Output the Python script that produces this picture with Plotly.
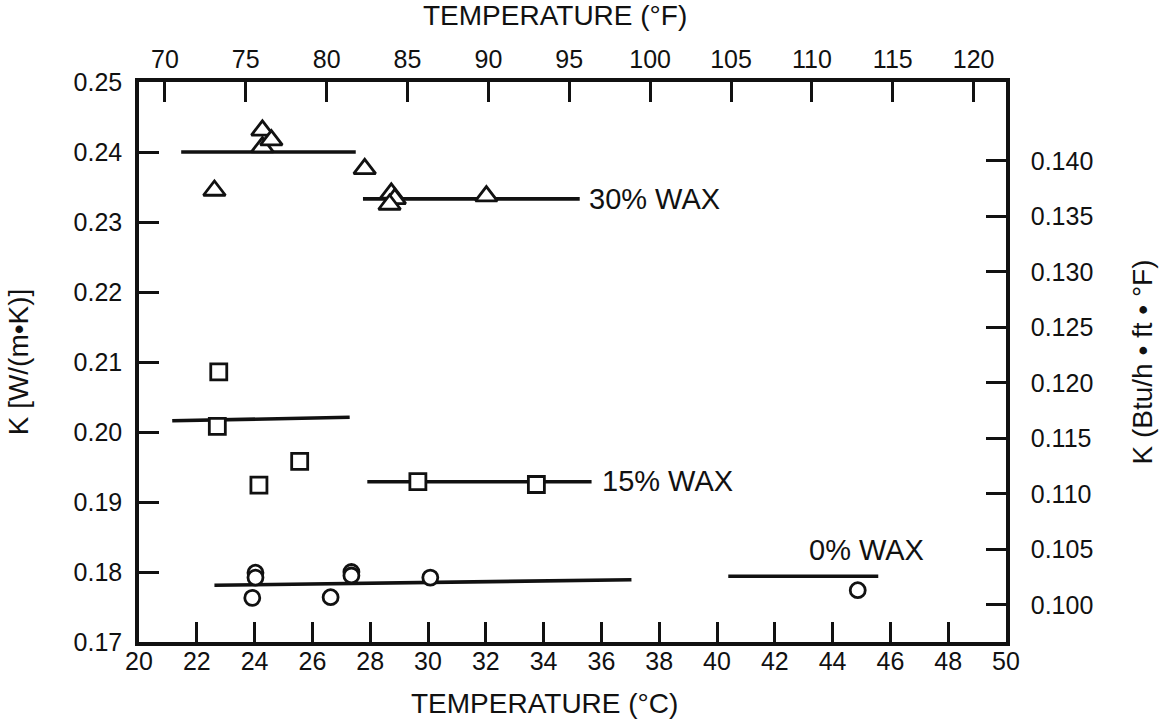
import plotly.graph_objects as go

# Thermal conductivity of wax/oil mixtures vs temperature
# 30% wax (triangles)
t30_c = [22.61, 24.27, 24.27, 24.58, 27.81, 28.73, 28.85, 28.67, 32.02]
k30 = [0.2345, 0.2431, 0.2407, 0.2417, 0.2376, 0.2341, 0.2333, 0.2325, 0.2337]
# 15% wax (squares)
t15_c = [22.76, 22.71, 24.15, 25.56, 29.65, 33.75]
k15 = [0.2086, 0.2008, 0.1924, 0.1958, 0.1929, 0.1925]
# 0% wax (circles)
t0_c = [24.03, 24.03, 23.92, 26.63, 27.35, 27.35, 30.08, 44.87]
k0 = [0.1799, 0.1792, 0.1763, 0.1764, 0.1800, 0.1795, 0.1792, 0.1774]

# Mean-value lines below / above the wax appearance temperature
line30_x = [[21.46, 27.50], [27.75, 35.25]]
line30_k = [[0.2400, 0.2400], [0.2333, 0.2333]]
line15_x = [[21.15, 27.29], [27.90, 35.66]]
line15_k = [[0.2016, 0.2021], [0.1929, 0.1929]]
line0_x = [[22.61, 37.04], [40.39, 45.58]]
line0_k = [[0.1781, 0.1789], [0.1794, 0.1794]]

series_labels = ["30% WAX", "15% WAX", "0% WAX"]
label_pos = [(35.49, 0.2333, "left"), (35.95, 0.1930, "left"), (45.19, 0.1831, "center")]

x_ticks_c = list(range(20, 52, 2))
x_ticks_f = list(range(70, 125, 5))
y_ticks_si = [0.17, 0.18, 0.19, 0.20, 0.21, 0.22, 0.23, 0.24, 0.25]
y_ticks_us = [0.100, 0.105, 0.110, 0.115, 0.120, 0.125, 0.130, 0.135, 0.140]

# English-unit scales (°F on top, Btu/h·ft·°F on the right)
F_RANGE = [68.4, 122.0]
US_RANGE = [0.09665, 0.14710]
W_TO_BTU = 0.5778

FONT = "Liberation Sans, Arial, Helvetica, sans-serif"
BLACK = "#111111"

fig = go.Figure()

for xs_all, ks_all in [(line30_x, line30_k), (line15_x, line15_k), (line0_x, line0_k)]:
    for xs, ks in zip(xs_all, ks_all):
        fig.add_trace(go.Scatter(x=xs, y=ks, mode="lines",
                                 line=dict(color=BLACK, width=3.6),
                                 showlegend=False, hoverinfo="skip"))

marker_line = dict(color=BLACK, width=2.8)
fig.add_trace(go.Scatter(x=t30_c, y=k30, mode="markers", name="30% WAX",
                         marker=dict(symbol="triangle-up", size=19, color="white",
                                     line=marker_line), showlegend=False))
fig.add_trace(go.Scatter(x=t15_c, y=k15, mode="markers", name="15% WAX",
                         marker=dict(symbol="square", size=16, color="white",
                                     line=marker_line), showlegend=False))
fig.add_trace(go.Scatter(x=t0_c, y=k0, mode="markers", name="0% WAX",
                         marker=dict(symbol="circle", size=15, color="white",
                                     line=marker_line), showlegend=False))

# Same 0% data in English units, drawn transparent so the secondary axes exist
fig.add_trace(go.Scatter(x=[c * 1.8 + 32 for c in t0_c], y=[k * W_TO_BTU for k in k0],
                         xaxis="x2", yaxis="y2", mode="markers",
                         marker=dict(opacity=0), showlegend=False, hoverinfo="skip"))

for text, (lx, ly, anchor) in zip(series_labels, label_pos):
    fig.add_annotation(x=lx, y=ly, text=text, showarrow=False, xanchor=anchor,
                       yanchor="middle", font=dict(family=FONT, size=29, color=BLACK))

title_font = dict(family=FONT, size=28, color=BLACK)
# Temperature axis titles
fig.add_annotation(x=0.468, y=-0.079, xref="paper", yref="paper", text="TEMPERATURE (°C)",
                   showarrow=False, xanchor="center", yanchor="top", font=title_font)
fig.add_annotation(x=0.48, y=1.088, xref="paper", yref="paper", text="TEMPERATURE (°F)",
                   showarrow=False, xanchor="center", yanchor="bottom", font=title_font)

axis_common = dict(showgrid=False, zeroline=False, showline=True, linecolor=BLACK,
                   linewidth=3.5, ticks="inside", ticklen=20, tickwidth=2.8,
                   tickcolor=BLACK, tickfont=dict(family=FONT, size=25, color=BLACK),
                   mirror=False)

fig.update_layout(
    width=1167, height=727,
    margin=dict(l=139, r=161, t=82, b=85, pad=0),
    paper_bgcolor="white", plot_bgcolor="white",
    font=dict(family=FONT, color=BLACK),
    xaxis=dict(range=[20, 50], tickvals=x_ticks_c, ticktext=[str(v) for v in x_ticks_c],
               ticklabelstandoff=-6, **axis_common),
    xaxis2=dict(range=F_RANGE, overlaying="x", side="top", anchor="y2",
                tickvals=x_ticks_f, ticktext=[str(v) for v in x_ticks_f],
                ticklabelstandoff=0, **axis_common),
    yaxis=dict(range=[0.17, 0.25], tickvals=y_ticks_si,
               ticktext=[f"{v:.2f}" for v in y_ticks_si],
               title=dict(text="K [W/(m•K)]", font=title_font, standoff=38),
               ticklabelstandoff=8, **axis_common),
    yaxis2=dict(range=US_RANGE, overlaying="y", side="right", anchor="x2",
                tickvals=y_ticks_us, ticktext=[f"{v:.3f}" for v in y_ticks_us],
                title=dict(text="K (Btu/h • ft • °F)", font=title_font, standoff=41),
                ticklabelstandoff=16, **axis_common),
)

fig.write_html("out.html")
